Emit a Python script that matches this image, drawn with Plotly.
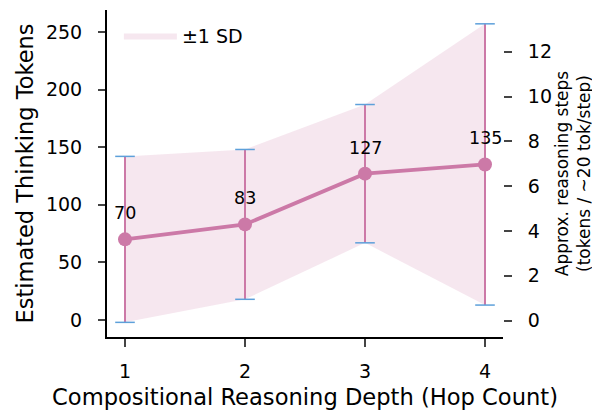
import numpy as np
import plotly.graph_objects as go

hops = [1, 2, 3, 4]
mean_tokens = [70, 83, 127, 135]
sd_tokens = [72, 65, 60, 122]
tok_per_step = 20

pink = "#CC79A7"
cap_blue = "#5DA0DA"

mean = np.array(mean_tokens)
sd = np.array(sd_tokens)
upper = mean + sd
lower = mean - sd

fig = go.Figure()

# shaded ±1 SD band
fig.add_trace(go.Scatter(x=hops, y=upper, mode="lines", line=dict(width=0),
                         showlegend=False, hoverinfo="skip"))
fig.add_trace(go.Scatter(x=hops, y=lower, mode="lines", line=dict(width=0),
                         fill="tonexty", fillcolor="rgba(204,121,167,0.18)",
                         name="±1 SD"))

# mean line with error bars
fig.add_trace(go.Scatter(
    x=hops, y=mean, mode="lines+markers",
    line=dict(color=pink, width=3.8),
    marker=dict(color=pink, size=14),
    error_y=dict(type="data", array=sd, color=pink, thickness=2, width=0),
    showlegend=False,
))
# caps
fig.add_trace(go.Scatter(
    x=hops + hops, y=list(upper) + list(lower), mode="markers",
    marker=dict(symbol="line-ew", size=14, line=dict(color=cap_blue, width=1.5)),
    showlegend=False, hoverinfo="skip",
))

# value labels
for h, v in zip(hops, mean_tokens):
    fig.add_annotation(x=h, y=v, text=str(v), showarrow=False, yshift=26,
                       font=dict(size=17.5, color="black"))

# invisible trace for secondary axis
fig.add_trace(go.Scatter(x=hops, y=mean / tok_per_step, yaxis="y2", mode="markers",
                         marker=dict(opacity=0), showlegend=False, hoverinfo="skip"))

font = "DejaVu Sans"
fig.update_layout(
    width=592, height=403,
    margin=dict(l=99, r=97, t=2, b=74),
    plot_bgcolor="white", paper_bgcolor="white",
    font=dict(family=font, size=19, color="black"),
    xaxis=dict(
        range=[0.85, 4.15], tickvals=hops, ticks="outside", ticklen=8, tickwidth=2,
        showline=True, linecolor="black", linewidth=2, showgrid=False, zeroline=False,
        automargin=False, ticklabelstandoff=8,
        title=dict(text="Compositional Reasoning Depth (Hop Count)", font=dict(size=22.6), standoff=8),
    ),
    yaxis=dict(
        range=[-14.7, 269], tickvals=[0, 50, 100, 150, 200, 250], ticks="outside",
        ticklen=7, tickwidth=2, showline=True, linecolor="black", linewidth=2,
        showgrid=False, zeroline=False, automargin=False, ticklabelstandoff=12,
        title=dict(text="Estimated Thinking Tokens", font=dict(size=22.5), standoff=6),
    ),
    yaxis2=dict(
        overlaying="y", side="right", range=[-0.73, 13.86],
        tickvals=[0, 2, 4, 6, 8, 10, 12], ticks="outside", ticklen=8, tickwidth=2,
        showline=False, showgrid=False, zeroline=False, automargin=False,
        ticklabelstandoff=12,
        title=dict(text="Approx. reasoning steps<br>(tokens / ~20 tok/step)", font=dict(size=17), standoff=4),
    ),
    legend=dict(x=0.03, y=0.98, xanchor="left", yanchor="top", bgcolor="rgba(0,0,0,0)",
                font=dict(size=19), itemwidth=53),
)

fig.write_html("out.html")
